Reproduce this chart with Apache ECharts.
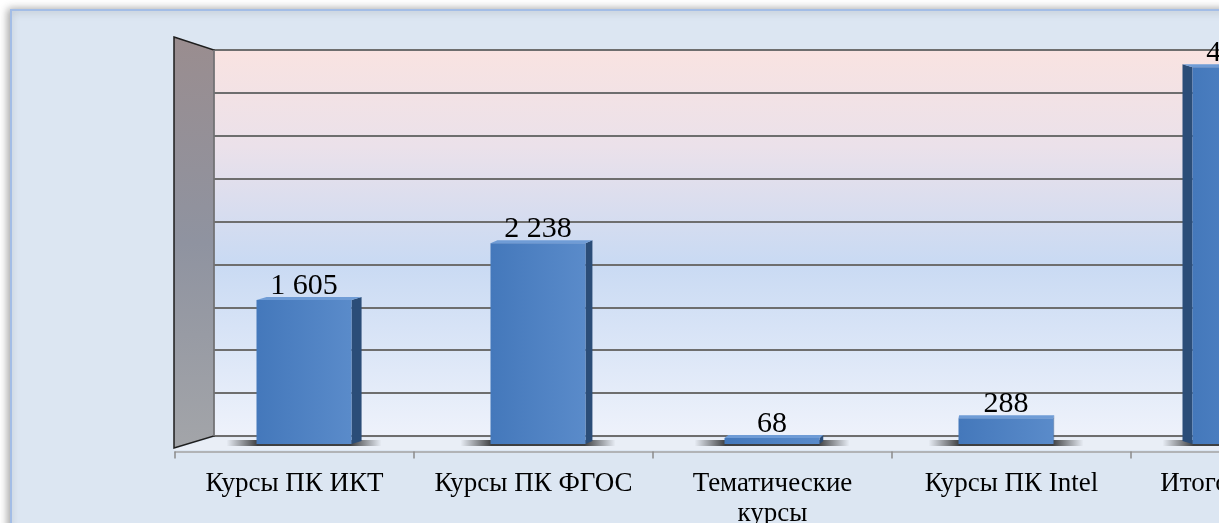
<!DOCTYPE html>
<html>
<head>
<meta charset="utf-8">
<script src="https://cdn.jsdelivr.net/npm/echarts@6/dist/echarts.min.js"></script>
<style>
html,body{margin:0;padding:0;background:#ffffff;overflow:hidden;width:1219px;height:523px;}
#chart{width:1420px;height:523px;}
</style>
</head>
<body>
<div id="chart"></div>
<script>
// ---- data ----
const categories = ['Курсы ПК ИКТ', 'Курсы ПК ФГОС', 'Тематические курсы', 'Курсы ПК Intel', 'Итого'];
const values = [1605, 2238, 68, 288, 4199];
const yMax = 4500;
const yInterval = 500;

function fmt(v) {
  return String(v).replace(/\B(?=(\d{3})+(?!\d))/g, ' ');
}

const chart = echarts.init(document.getElementById('chart'), null, {renderer: 'canvas'});

const BAR_W = 95;
function renderBar(params, api) {
  const i = api.value(0), v = api.value(1);
  const top = api.coord([i, v]);
  const base = api.coord([i, 0]);
  const cx = top[0];
  const x0 = cx - BAR_W / 2, x1 = cx + BAR_W / 2;
  const dx = cx > 1100 ? -10 : (1050 - cx) * 0.0135;
  const dy = 3;
  const ty = top[1], by = base[1];
  const sideX = dx >= 0 ? x1 : x0;
  const children = [];
  children.push({
    type: 'rect',
    shape: {x: x0 - 30, y: by - 4, width: BAR_W + 60, height: 6},
    style: {fill: new echarts.graphic.LinearGradient(0, 0, 1, 0, [
      {offset: 0, color: 'rgba(20,20,20,0)'},
      {offset: 0.2, color: 'rgba(20,20,20,0.8)'},
      {offset: 0.8, color: 'rgba(20,20,20,0.8)'},
      {offset: 1, color: 'rgba(20,20,20,0)'}
    ])}
  });
  children.push({
    type: 'polygon',
    shape: {points: [[sideX, ty], [sideX + dx, ty - dy], [sideX + dx, by - dy], [sideX, by]]},
    style: {fill: '#2b4d78'}
  });
  children.push({
    type: 'polygon',
    shape: {points: [[x0, ty], [x0 + dx, ty - dy], [x1 + dx, ty - dy], [x1, ty]]},
    style: {fill: '#6f9cd6'}
  });
  children.push({
    type: 'rect',
    shape: {x: x0, y: ty, width: BAR_W, height: Math.max(by - ty, 1)},
    style: {fill: new echarts.graphic.LinearGradient(0, 0, 1, 0, [
      {offset: 0, color: '#4478bb'},
      {offset: 1, color: '#5a8bca'}
    ])}
  });
  children.push({
    type: 'text',
    x: cx, y: ty + 1,
    style: {
      text: fmt(v), fill: '#000',
      font: '30px "Liberation Serif", "Times New Roman", serif',
      align: 'center', verticalAlign: 'bottom'
    }
  });
  return {type: 'group', children: children};
}

const option = {
  animation: false,
  backgroundColor: '#ffffff',
  graphic: [
    {type: 'rect', z: -10, shape: {x: 11, y: 10, width: 1600, height: 700},
     style: {fill: '#dce6f2', stroke: '#a3bde6', lineWidth: 2,
             shadowBlur: 8, shadowColor: 'rgba(0,0,0,0.35)', shadowOffsetX: -2}},
    // floor
    {type: 'polygon', z: 1, shape: {points: [[174, 449], [214, 437.5], [1420, 437.5], [1420, 450], [174, 450]]},
     style: {fill: '#e9eef6'}},
    // left side wall
    {type: 'polygon', z: 1, shape: {points: [[174, 37], [214, 50], [214, 436], [174, 448]]},
     style: {fill: new echarts.graphic.LinearGradient(0, 0, 0, 1, [
       {offset: 0, color: '#9a8d8f'},
       {offset: 0.5, color: '#8f93a0'},
       {offset: 1, color: '#a3a5a9'}
     ]), stroke: '#1e1e1e', lineWidth: 1.5}},
    {type: 'line', z: 1, shape: {x1: 214, y1: 50, x2: 214, y2: 436}, style: {stroke: '#b0b0b4', lineWidth: 1}}
  ],
  grid: [
    {left: 214, top: 50, width: 1200, height: 386, show: true, borderWidth: 0, outerBoundsMode: 'none',
     backgroundColor: new echarts.graphic.LinearGradient(0, 0, 0, 1, [
       {offset: 0, color: '#f9e3e1'},
       {offset: 0.25, color: '#ebe1ea'},
       {offset: 0.55, color: '#c9daf3'},
       {offset: 1, color: '#eef2fb'}
     ])},
    {left: 187, top: 40.3, width: 1170, height: 403.7, outerBoundsMode: 'none'},
    {left: 175, top: 50, width: 1195, height: 401.5, outerBoundsMode: 'none'}
  ],
  xAxis: [
    {gridIndex: 0, type: 'value', show: false, min: 0, max: 1},
    {gridIndex: 1, type: 'category', data: categories, show: false},
    {gridIndex: 2, type: 'category', data: categories, z: 4,
     axisLine: {show: true, lineStyle: {color: '#a3a3a3', width: 1.5}},
     axisTick: {show: true, length: 7, lineStyle: {color: '#8a8a8a', width: 1.5}},
     axisLabel: {color: '#000', fontFamily: '"Liberation Serif", "Times New Roman", serif',
                 fontSize: 27, lineHeight: 30, margin: 17, interval: 0, hideOverlap: false,
                 formatter: (v, idx) => {
                   const t = v.length > 16 ? v.replace(' ', '\n') : v;
                   // last label kept inside the chart area, as the original does
                   return idx === categories.length - 1 ? '{last|' + t + '}' : t;
                 },
                 rich: {last: {fontSize: 27, fontFamily: '"Liberation Serif", "Times New Roman", serif',
                               color: '#000', padding: [0, 112, 0, 0]}}}}
  ],
  yAxis: [
    {gridIndex: 0, type: 'value', min: 0, max: yMax, interval: yInterval,
     axisLine: {show: false}, axisTick: {show: false}, axisLabel: {show: false},
     splitLine: {show: true, lineStyle: {color: '#6e6e6e', width: 2}}},
    {gridIndex: 1, type: 'value', min: 0, max: yMax, show: false, splitLine: {show: false}},
    {gridIndex: 2, type: 'value', min: 0, max: yMax, show: false, splitLine: {show: false}}
  ],
  series: [
    {type: 'custom', xAxisIndex: 1, yAxisIndex: 1, z: 5, clip: false,
     renderItem: renderBar,
     data: values.map((v, i) => [i, v])}
  ]
};
chart.setOption(option);
</script>
</body>
</html>
